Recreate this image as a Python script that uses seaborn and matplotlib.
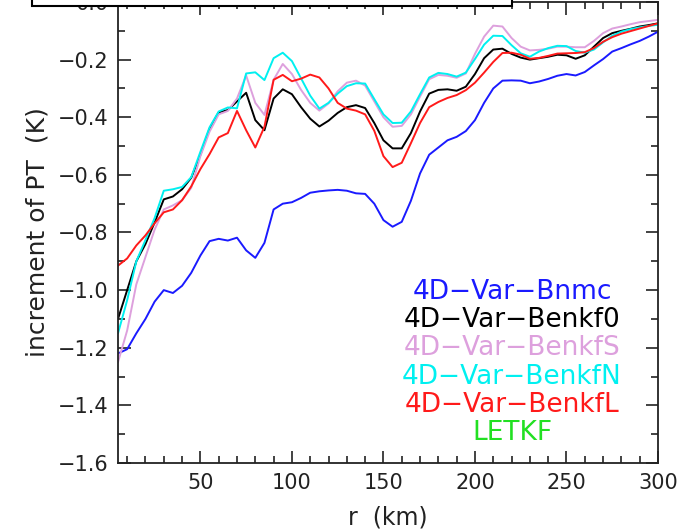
import numpy as np
import pandas as pd
import matplotlib
matplotlib.use("Agg")
import matplotlib.pyplot as plt
from matplotlib.patches import Rectangle
from matplotlib.ticker import MultipleLocator, FuncFormatter
import seaborn as sns

# radius (km), sampled every 5 km
r = list(range(5, 301, 5))

bnmc = [-1.22, -1.205, -1.15, -1.10, -1.04, -1.00, -1.01, -0.985, -0.94, -0.88,
        -0.83, -0.822, -0.828, -0.818, -0.862, -0.888, -0.836, -0.72, -0.70, -0.695,
        -0.68, -0.662, -0.657, -0.654, -0.652, -0.655, -0.664, -0.666, -0.70, -0.757,
        -0.78, -0.763, -0.69, -0.595, -0.53, -0.505, -0.48, -0.468, -0.448, -0.41,
        -0.35, -0.30, -0.273, -0.272, -0.273, -0.282, -0.276, -0.267, -0.256, -0.25,
        -0.255, -0.243, -0.22, -0.198, -0.172, -0.16, -0.147, -0.135, -0.12, -0.103]

benkf0 = [-1.10, -1.00, -0.90, -0.84, -0.765, -0.685, -0.675, -0.65, -0.61, -0.53,
          -0.44, -0.383, -0.375, -0.345, -0.315, -0.41, -0.445, -0.335, -0.303, -0.32,
          -0.365, -0.405, -0.432, -0.412, -0.385, -0.365, -0.358, -0.368, -0.42, -0.48,
          -0.508, -0.508, -0.455, -0.38, -0.318, -0.305, -0.303, -0.308, -0.294, -0.25,
          -0.195, -0.165, -0.162, -0.18, -0.193, -0.20, -0.195, -0.19, -0.183, -0.185,
          -0.197, -0.185, -0.155, -0.125, -0.108, -0.10, -0.093, -0.085, -0.08, -0.074]

benkfs = [-1.25, -1.14, -0.98, -0.885, -0.79, -0.72, -0.706, -0.688, -0.645, -0.535,
          -0.45, -0.39, -0.378, -0.335, -0.255, -0.35, -0.392, -0.27, -0.215, -0.25,
          -0.305, -0.35, -0.377, -0.352, -0.31, -0.28, -0.273, -0.29, -0.345, -0.40,
          -0.433, -0.43, -0.39, -0.328, -0.268, -0.253, -0.256, -0.263, -0.248, -0.18,
          -0.12, -0.082, -0.085, -0.125, -0.155, -0.168, -0.166, -0.162, -0.155, -0.155,
          -0.157, -0.157, -0.135, -0.108, -0.092, -0.085, -0.077, -0.07, -0.066, -0.062]

benkfn = [-1.15, -1.035, -0.90, -0.826, -0.75, -0.655, -0.65, -0.642, -0.608, -0.52,
          -0.435, -0.38, -0.366, -0.369, -0.248, -0.244, -0.271, -0.195, -0.176, -0.205,
          -0.265, -0.325, -0.37, -0.35, -0.318, -0.292, -0.282, -0.283, -0.337, -0.39,
          -0.42, -0.419, -0.38, -0.32, -0.262, -0.246, -0.25, -0.259, -0.245, -0.198,
          -0.148, -0.117, -0.118, -0.15, -0.178, -0.19, -0.172, -0.16, -0.152, -0.153,
          -0.17, -0.176, -0.165, -0.14, -0.117, -0.103, -0.094, -0.088, -0.083, -0.079]

benkfl = [-0.915, -0.89, -0.845, -0.81, -0.768, -0.73, -0.72, -0.688, -0.64, -0.58,
          -0.528, -0.47, -0.455, -0.378, -0.445, -0.505, -0.433, -0.27, -0.253, -0.275,
          -0.266, -0.252, -0.262, -0.30, -0.35, -0.37, -0.377, -0.39, -0.447, -0.535,
          -0.573, -0.558, -0.49, -0.42, -0.365, -0.347, -0.333, -0.323, -0.306, -0.28,
          -0.245, -0.208, -0.177, -0.176, -0.183, -0.197, -0.194, -0.187, -0.179, -0.178,
          -0.177, -0.174, -0.16, -0.138, -0.122, -0.11, -0.101, -0.092, -0.083, -0.074]

names = ["4D\u2212Var\u2212Bnmc", "4D\u2212Var\u2212Benkf0", "4D\u2212Var\u2212BenkfS",
         "4D\u2212Var\u2212BenkfN", "4D\u2212Var\u2212BenkfL", "LETKF"]
colors = ["#1a1aff", "#000000", "#dda0dd", "#00f0f0", "#ff1a1a", "#22e022"]

series = [bnmc, benkf0, benkfs, benkfn, benkfl]
df = pd.concat([pd.DataFrame({"r": r, "inc": v, "exp": n})
                for n, v in zip(names[:5], series)], ignore_index=True)

sns.set_style("ticks")
plt.rcParams["font.family"] = ["DejaVu Sans"]

fig = plt.figure(figsize=(6.79, 5.29), dpi=100)
ax = fig.add_axes([0.1738, 0.1248, 0.7953, 0.8714])

sns.lineplot(data=df, x="r", y="inc", hue="exp", palette=dict(zip(names, colors)),
             linewidth=1.4, legend=False, ax=ax, estimator=None, sort=False)

ax.set_xlim(5, 300)
ax.set_ylim(-1.6, 0.0)
ax.xaxis.set_major_locator(MultipleLocator(50))
ax.xaxis.set_minor_locator(MultipleLocator(10))
ax.yaxis.set_major_locator(MultipleLocator(0.2))
ax.yaxis.set_minor_locator(MultipleLocator(0.1))
ax.yaxis.set_major_formatter(FuncFormatter(lambda v, p: f"{v:.1f}".replace("-", "\u2212")))
ax.tick_params(which="both", direction="in", top=True, right=True, width=1.2,
               colors="#222222", labelsize=15, pad=7)
ax.tick_params(which="major", length=9)
ax.tick_params(which="minor", length=5)
for s in ax.spines.values():
    s.set_linewidth(1.3)
    s.set_color("#222222")

ax.set_xlabel("r  (km)", fontsize=17, color="#222222", labelpad=9)
ax.set_ylabel("increment of PT  (K)", fontsize=18, color="#222222", labelpad=6)

# legend as coloured text
for i, (n, c) in enumerate(zip(names, colors)):
    ax.text(0.7296, 0.371 - i * 0.0612, n, color=c, fontsize=19,
            ha="center", va="center", transform=ax.transAxes)

# title box cut off at the top
fig.add_artist(Rectangle((32 / 679, 523 / 529), 480 / 679, 0.05, transform=fig.transFigure,
                         facecolor="white", edgecolor="black", linewidth=1.5, zorder=10))

fig.savefig("out.png", dpi=100)
